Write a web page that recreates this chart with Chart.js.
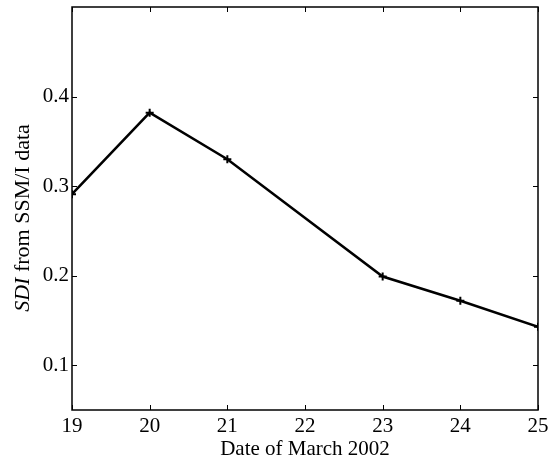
<!DOCTYPE html>
<html>
<head>
<meta charset="utf-8">
<script src="https://cdn.jsdelivr.net/npm/chart.js@4"></script>
<style>
  html, body { margin: 0; background: #fff; }
  #wrap { width: 548px; height: 464px; }
</style>
</head>
<body>
<div id="wrap"><canvas id="c"></canvas></div>
<script>
// values
const days = [19, 20, 21, 23, 24, 25];
const sdi = [0.291, 0.382, 0.330, 0.199, 0.172, 0.143];
const xTicks = [19, 20, 21, 22, 23, 24, 25];
const yTicks = [0.1, 0.2, 0.3, 0.4];
const xTitle = 'Date of March 2002';
const yTitleItalic = 'SDI';
const yTitleRest = ' from SSM/I data';

const serif = "'Liberation Serif', 'Times New Roman', serif";

// matlab-ish box with inward ticks + the axis titles
const boxPlugin = {
  id: 'box',
  afterDraw(chart) {
    const ctx = chart.ctx, a = chart.chartArea;
    const xs = chart.scales.x, ys = chart.scales.y;
    const tl = 5;
    ctx.save();
    ctx.strokeStyle = '#000';
    ctx.lineWidth = 1.5;
    ctx.strokeRect(a.left, a.top, a.right - a.left, a.bottom - a.top);
    ctx.lineWidth = 1;
    ctx.beginPath();
    xTicks.forEach(v => {
      const px = Math.round(xs.getPixelForValue(v)) + 0.5;
      ctx.moveTo(px, a.bottom); ctx.lineTo(px, a.bottom - tl);
      ctx.moveTo(px, a.top); ctx.lineTo(px, a.top + tl);
    });
    yTicks.forEach(v => {
      const py = Math.round(ys.getPixelForValue(v)) + 0.5;
      ctx.moveTo(a.left, py); ctx.lineTo(a.left + tl, py);
      ctx.moveTo(a.right, py); ctx.lineTo(a.right - tl, py);
    });
    ctx.stroke();

    // x title
    ctx.fillStyle = '#000';
    ctx.font = '21px ' + serif;
    ctx.textAlign = 'center';
    ctx.textBaseline = 'middle';
    ctx.fillText(xTitle, (a.left + a.right) / 2, 449);

    // y title, SDI in italics
    ctx.translate(23, 218);
    ctx.rotate(-Math.PI / 2);
    ctx.textAlign = 'left';
    ctx.font = 'italic 22px ' + serif;
    const w1 = ctx.measureText(yTitleItalic).width;
    ctx.font = '22px ' + serif;
    const w2 = ctx.measureText(yTitleRest).width;
    let x0 = -(w1 + w2) / 2;
    ctx.font = 'italic 22px ' + serif;
    ctx.fillText(yTitleItalic, x0, 0);
    ctx.font = '22px ' + serif;
    ctx.fillText(yTitleRest, x0 + w1, 0);
    ctx.restore();
  }
};

new Chart(document.getElementById('c'), {
  type: 'line',
  data: {
    datasets: [{
      data: days.map((d, i) => ({ x: d, y: sdi[i] })),
      borderColor: '#000',
      borderWidth: 2.5,
      pointStyle: 'cross',
      pointRadius: 4,
      pointBorderWidth: 2,
      pointBorderColor: '#000',
      tension: 0,
      fill: false
    }]
  },
  options: {
    responsive: true,
    maintainAspectRatio: false,
    animation: false,
    layout: { padding: { top: 7, right: 10, bottom: 0, left: 0 } },
    plugins: { legend: { display: false }, tooltip: { enabled: false } },
    scales: {
      x: {
        type: 'linear',
        min: 19, max: 25,
        afterBuildTicks: s => { s.ticks = xTicks.map(v => ({ value: v })); },
        afterFit: s => { s.height = 54; s.paddingLeft = 0; s.paddingRight = 0; },
        grid: { display: false, drawTicks: false },
        border: { display: false },
        ticks: { color: '#000', padding: 4, font: { family: serif, size: 21 }, maxRotation: 0 }
      },
      y: {
        min: 0.05, max: 0.5,
        afterBuildTicks: s => { s.ticks = yTicks.map(v => ({ value: v })); },
        afterFit: s => { s.width = 72; s.paddingTop = 0; s.paddingBottom = 0; },
        grid: { display: false, drawTicks: false },
        border: { display: false },
        ticks: { color: '#000', padding: 3, font: { family: serif, size: 21 },
                 callback: v => v.toFixed(1) }
      }
    }
  },
  plugins: [boxPlugin]
});
</script>
</body>
</html>
